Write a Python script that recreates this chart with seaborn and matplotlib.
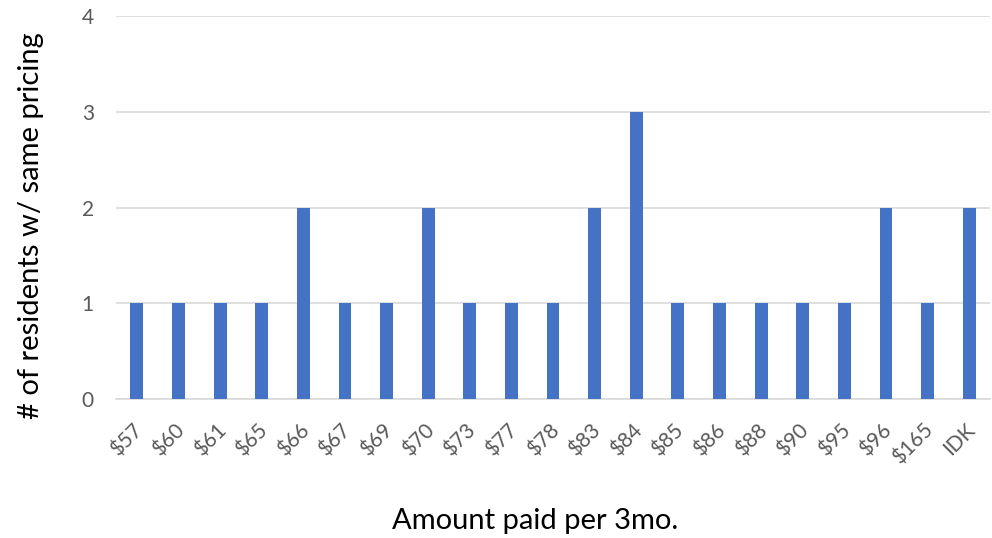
import matplotlib
matplotlib.use("Agg")
import matplotlib.pyplot as plt
import matplotlib.transforms as mtransforms
import seaborn as sns
import pandas as pd

categories = ["$57", "$60", "$61", "$65", "$66", "$67", "$69", "$70", "$73", "$77",
              "$78", "$83", "$84", "$85", "$86", "$88", "$90", "$95", "$96", "$165", "IDK"]
counts = [1, 1, 1, 1, 2, 1, 1, 2, 1, 1, 1, 2, 3, 1, 1, 1, 1, 1, 2, 1, 2]
y_ticks = [0, 1, 2, 3, 4]

sns.set_theme(style="white")
plt.rcParams["font.family"] = ["Lato", "DejaVu Sans"]

df = pd.DataFrame({"price": categories, "count": counts})

fig = plt.figure(figsize=(9.92, 5.38), dpi=100)
ax = fig.add_axes([0.117, 0.258, 0.881, 0.712])

sns.barplot(data=df, x="price", y="count", color="#4472C4", width=0.31,
            saturation=1, linewidth=0, ax=ax, zorder=3)

ax.set_ylim(0, 4)
ax.set_yticks(y_ticks)
ax.set_xlim(-0.5, len(categories) - 0.5)
ax.yaxis.grid(True, color="#d9d9d9", linewidth=1.2, zorder=0)
ax.set_axisbelow(True)
for s in ["top", "right", "left"]:
    ax.spines[s].set_visible(False)
ax.spines["bottom"].set_color("#d9d9d9")
ax.spines["bottom"].set_linewidth(1.2)

ax.tick_params(axis="y", length=0, pad=16, labelsize=15, labelcolor="#595959")
ax.tick_params(axis="x", length=0, pad=15, labelsize=15, labelcolor="#595959")
shift = mtransforms.ScaledTranslation(-4 / 100, 0, fig.dpi_scale_trans)
for lab in ax.get_xticklabels():
    lab.set_rotation(45)
    lab.set_ha("right")
    lab.set_rotation_mode("anchor")
    lab.set_transform(lab.get_transform() + shift)

ax.set_xlabel("Amount paid per 3mo.", fontsize=21, color="black")
ax.xaxis.set_label_coords(0.479, -0.285)
ax.set_ylabel("# of residents w/ same pricing", fontsize=21, color="black")
ax.yaxis.set_label_coords(-0.082, 0.454)

fig.savefig("out.png", dpi=100)
